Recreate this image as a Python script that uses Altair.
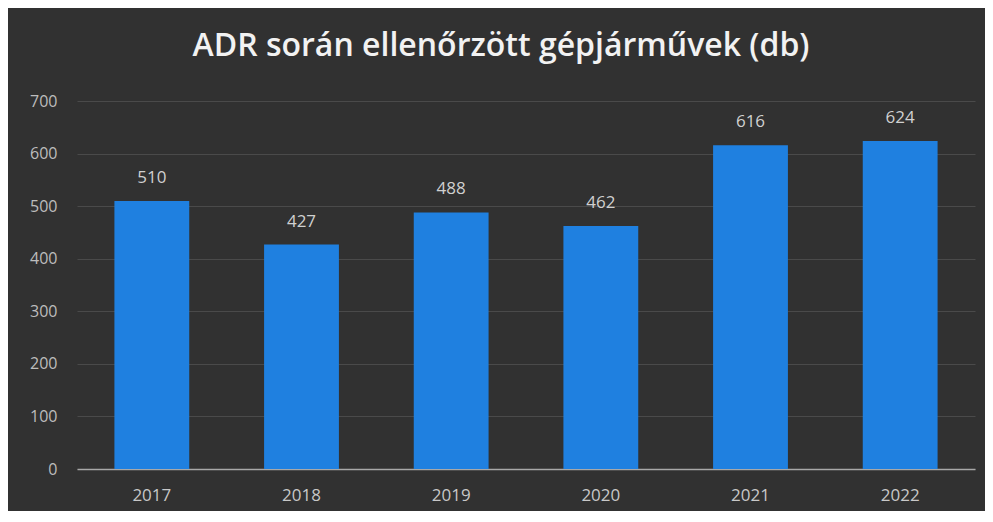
import altair as alt
import pandas as pd

years = ["2017", "2018", "2019", "2020", "2021", "2022"]
values = [510, 427, 488, 462, 616, 624]
title_text = "ADR során ellenőrzött gépjárművek (db)"
y_ticks = [0, 100, 200, 300, 400, 500, 600, 700]

df = pd.DataFrame({"year": years, "value": values})

x = alt.X("year:N", sort=years, title=None,
          scale=alt.Scale(paddingInner=0.5, paddingOuter=0.25),
          axis=alt.Axis(labelAngle=0, labelFont="Open Sans", labelFontSize=17,
                        labelColor="#c8c8c8", labelPadding=18, ticks=False,
                        domainColor="#a8a8a8", domainWidth=1.5, grid=False))
y = alt.Y("value:Q", title=None,
          scale=alt.Scale(domain=[0, 700], nice=False),
          axis=alt.Axis(values=y_ticks, labelFont="Open Sans", labelFontSize=16,
                        labelColor="#bdbdbd", labelPadding=20, ticks=False,
                        domain=False, gridColor="#4a4a4a", gridWidth=1))

bars = alt.Chart(df).mark_bar(color="#1f80e0").encode(x=x, y=y)
labels = alt.Chart(df).mark_text(baseline="bottom", dy=-14, font="Open Sans",
                                 fontSize=17, color="#d0d0d0").encode(
    x=alt.X("year:N", sort=years), y="value:Q", text="value:Q")

chart = (bars + labels).properties(
    width=898, height=368,
    background="#313131",
    padding={"left": 69, "top": 93, "right": 10, "bottom": 42},
    autosize=alt.AutoSizeParams(type="none"),
    title=alt.TitleParams(title_text, font="Open Sans", fontSize=32,
                          fontWeight=600, color="#f2f2f2",
                          anchor="middle", dx=-25, offset=30),
).configure_view(stroke=None)

chart.save("out.html", embed_options={"renderer": "svg", "actions": False})
